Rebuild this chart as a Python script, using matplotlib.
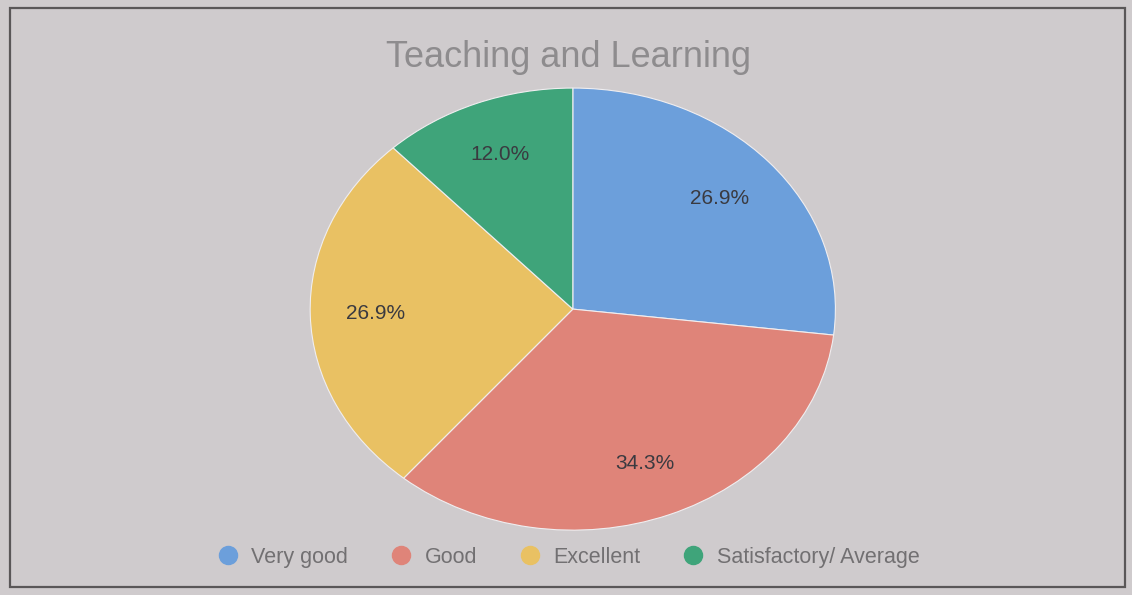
import matplotlib.pyplot as plt
from matplotlib.lines import Line2D
from matplotlib.patches import Rectangle

plt.rcParams['font.family'] = ['Liberation Sans', 'DejaVu Sans']

# data
categories = ['Very good', 'Good', 'Excellent', 'Satisfactory/ Average']
shares = [26.9, 34.3, 26.9, 12.0]
colors = ['#6c9fdb', '#df8479', '#e9c163', '#3fa47a']

BG = '#cfcbcd'

fig = plt.figure(figsize=(11.32, 5.95), dpi=100, facecolor=BG)

# thin dark frame around the chart
fig.patches.append(Rectangle((0.009, 0.013), 0.985, 0.974, transform=fig.transFigure,
                             fill=False, edgecolor='#5a5758', linewidth=1.6))

# pie is stretched horizontally in the picture -> aspect auto
ax = fig.add_axes([0.274, 0.109, 0.464, 0.743])
ax.set_facecolor(BG)
wedges, texts, autotexts = ax.pie(
    shares, colors=colors, startangle=90, counterclock=False,
    autopct='%1.1f%%', pctdistance=0.75,
    wedgeprops=dict(edgecolor='#f0eef0', linewidth=0.8),
    textprops=dict(color='#3a3a40', fontsize=15))
ax.set_aspect('auto')
ax.set_xlim(-1, 1)
ax.set_ylim(-1, 1)
ax.axis('off')

fig.text(0.502, 0.903, 'Teaching and Learning', ha='center', va='center',
         fontsize=26, color='#8e8c8e')

handles = [Line2D([], [], marker='o', linestyle='', markersize=13,
                  markerfacecolor=c, markeredgecolor=c) for c in colors]
leg = fig.legend(handles, categories, loc='center', bbox_to_anchor=(0.502, 0.063),
                 ncol=4, frameon=False, fontsize=15.5, handletextpad=0.6,
                 columnspacing=1.95, handlelength=1.0)
for t in leg.get_texts():
    t.set_color('#727072')

fig.savefig('out.png', dpi=100, facecolor=BG)
